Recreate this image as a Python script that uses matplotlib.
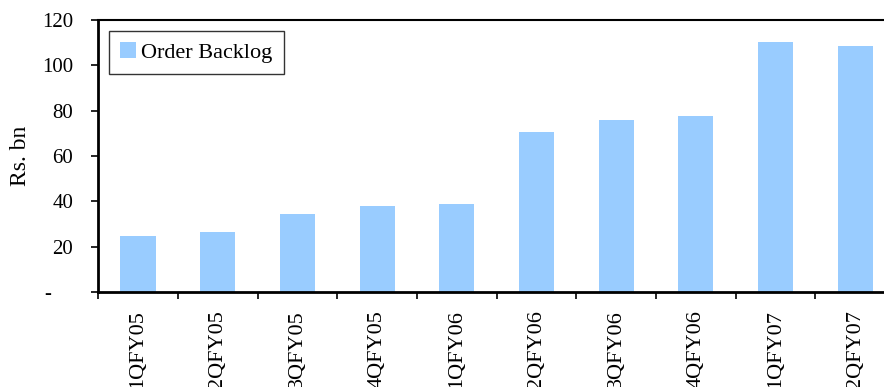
import numpy as np
import matplotlib
matplotlib.use('Agg')
import matplotlib.pyplot as plt

# 数据 (Rs. bn)
quarters = ['1QFY05', '2QFY05', '3QFY05', '4QFY05', '1QFY06',
            '2QFY06', '3QFY06', '4QFY06', '1QFY07', '2QFY07']
order_backlog = [24.7, 26.5, 34.4, 37.9, 38.8, 70.6, 75.9, 77.6, 110.3, 108.5]
yticks = [0, 20, 40, 60, 80, 100, 120]
yticklabels = ['-    ', '20', '40', '60', '80', '100', '120']

plt.rcParams['font.family'] = ['Liberation Serif', 'DejaVu Serif']

fig = plt.figure(figsize=(8.84, 3.87), dpi=100)
ax = fig.add_axes([0.111, 0.2455, 0.9016, 0.7028])

x = np.arange(len(quarters))
ax.bar(x, order_backlog, width=0.44, color='#99CCFF', label='Order Backlog')

ax.set_xlim(-0.5, len(quarters) - 0.5)
ax.set_ylim(0, 120)
ax.set_yticks(yticks)
ax.set_yticklabels(yticklabels, fontsize=15)

# x 轴刻度线在类别之间, 标签在中间
ax.set_xticks(np.arange(len(quarters) + 1) - 0.5)
ax.set_xticklabels([])
ax.set_xticks(x, minor=True)
ax.set_xticklabels(quarters, minor=True, rotation=90, fontsize=16, va='top')
ax.tick_params(axis='x', which='minor', length=0, pad=13)
ax.tick_params(axis='x', which='major', direction='out', length=5, width=1.2)
ax.tick_params(axis='y', direction='out', length=5, width=1.2, pad=13)

for s in ['left', 'bottom']:
    ax.spines[s].set_linewidth(2)
ax.spines['top'].set_linewidth(1.5)

ax.set_ylabel('Rs. bn', fontsize=17, va='center')
ax.yaxis.set_label_coords((20 - 98) / 797, 0.5)

leg = ax.legend(loc='upper left', fontsize=16, frameon=True, fancybox=False,
                handlelength=0.7, handleheight=0.7, handletextpad=0.25,
                borderaxespad=0.5, borderpad=0.5)
leg.get_frame().set_edgecolor('black')
leg.get_frame().set_linewidth(1)

fig.savefig('out.png', dpi=100)
